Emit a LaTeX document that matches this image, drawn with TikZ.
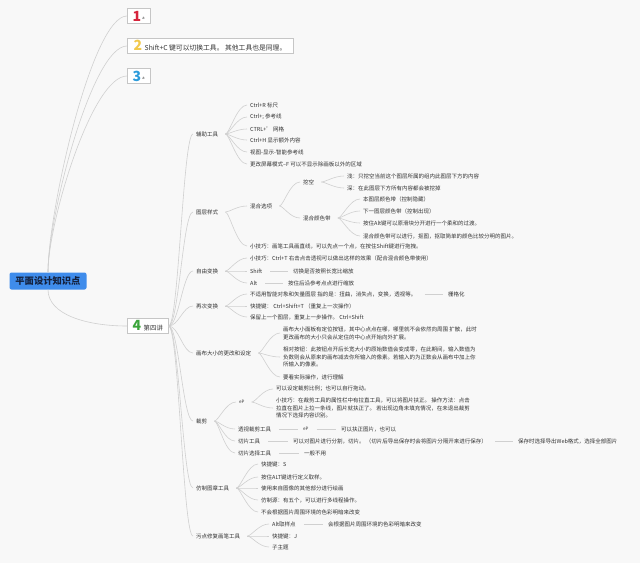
\documentclass[tikz,border=0pt]{standalone}
\usepackage{fontspec}
\setmainfont{Noto Sans CJK SC}
\usetikzlibrary{positioning}
\definecolor{linkgray}{HTML}{D0D0D0}
\definecolor{textdark}{HTML}{333333}
\definecolor{rootblue}{HTML}{3F8CEB}
\definecolor{rootink}{HTML}{14213D}
\definecolor{numred}{HTML}{D6243C}
\definecolor{numyellow}{HTML}{F2C94C}
\definecolor{numblue}{HTML}{2D9CDB}
\definecolor{numgreen}{HTML}{3BA53B}
\definecolor{bggray}{HTML}{F8F8F8}
\newcommand\topicnum[2]{{\fontsize{14}{14}\selectfont\bfseries\textcolor{#1}{#2}}}
\newcommand\tinytag[1]{\raisebox{2pt}{\fontsize{4}{4}\selectfont #1}}
\tikzset{
  leaf/.style={
    anchor=west, inner sep=1pt, text=textdark,
    align=left, font=\fontsize{5.5}{7.8}\selectfont
  },
  topic/.style={
    anchor=west, rectangle, draw=gray!45, fill=white,
    inner xsep=5.5pt, inner ysep=0pt, minimum height=15pt,
    text=textdark, font=\fontsize{6.4}{7}\selectfont
  },
  rootbox/.style={
    rectangle, rounded corners=2pt, fill=rootblue, text=rootink,
    minimum width=77pt, minimum height=17pt,
    font=\fontsize{9.3}{10}\selectfont\bfseries
  },
  link/.style={draw=linkgray, line width=0.6pt},
  fan/.style={link, out=0, in=180, out distance=10pt, in distance=12pt,
    shorten <=6pt, shorten >=2pt},
  hline/.style={link, shorten <=7pt, shorten >=4pt}
}

\begin{document}
\begin{tikzpicture}[x=1pt, y=-1pt]

  % canvas
  \fill[bggray] (0,0) rectangle (640,563);
  \useasboundingbox (0,0) rectangle (640,563);

  % Root and main topics
  \node[rootbox] (root) at (48,281) {平面设计知识点};
  \node[topic] (t1) at (127,16) {\topicnum{numred}{1}\,\tinytag{a}};
  \node[topic, inner xsep=6.5pt] (t2) at (127,46) {\topicnum{numyellow}{2}\, {\fontsize{6.8}{7}\selectfont Shift+C 键可以切换工具。 其他工具也是同理。}};
  \node[topic] (t3) at (127,76) {\topicnum{numblue}{3}\,\tinytag{a}};
  \node[topic] (t4) at (127,326) {\topicnum{numgreen}{4}\, 第四讲};

  \draw[link] (root.north) .. controls +(0,-60) and +(-35,0) .. (t1.west);
  \draw[link] (root.north) .. controls +(0,-55) and +(-35,0) .. (t2.west);
  \draw[link] (root.north) .. controls +(0,-50) and +(-35,0) .. (t3.west);
  \draw[link] (root.south) .. controls +(0,25) and +(-40,0) .. (t4.west);

  % Lecture four: subtopics
  \node[leaf] (fzgj) at (195,134) {辅助工具};
  \node[leaf] (tcys) at (195,212) {图层样式};
  \node[leaf] (zybh) at (195,271) {自由变换};
  \node[leaf] (zcbh) at (195,306) {再次变换};
  \node[leaf] (hbdx) at (195,353) {画布大小的更改和设定};
  \node[leaf] (cj) at (195,421) {裁剪};
  \node[leaf] (fzyz) at (195,488) {仿制图章工具};
  \node[leaf] (wdxf) at (195,536) {污点修复画笔工具};

  \draw[fan, shorten <=0pt] (t4.east) to (fzgj.west);
  \draw[fan, shorten <=0pt] (t4.east) to (tcys.west);
  \draw[fan, shorten <=0pt] (t4.east) to (zybh.west);
  \draw[fan, shorten <=0pt] (t4.east) to (zcbh.west);
  \draw[fan, shorten <=0pt] (t4.east) to (hbdx.west);
  \draw[fan, shorten <=0pt] (t4.east) to (cj.west);
  \draw[fan, shorten <=0pt] (t4.east) to (fzyz.west);
  \draw[fan, shorten <=0pt] (t4.east) to (wdxf.west);

  % Helper tools
  \node[leaf] (fz1) at (249,105) {Ctrl+R 标尺};
  \node[leaf] (fz2) at (249,117) {Ctrl+; 参考线};
  \node[leaf] (fz3) at (249,129) {CTRL+{\char"27} 网格};
  \node[leaf] (fz4) at (249,140) {Ctrl+H 显示额外内容};
  \node[leaf] (fz5) at (249,152) {视图-显示-智能参考线};
  \node[leaf] (fz6) at (249,164) {更改屏幕模式--F 可以不显示除画板以外的区域};
  \draw[fan] (fzgj.east) to (fz1.west);
  \draw[fan] (fzgj.east) to (fz2.west);
  \draw[fan] (fzgj.east) to (fz3.west);
  \draw[fan] (fzgj.east) to (fz4.west);
  \draw[fan] (fzgj.east) to (fz5.west);
  \draw[fan] (fzgj.east) to (fz6.west);

  % Layer style
  \node[leaf] (hhxx) at (249,206) {混合选项};
  \node[leaf] (tcjq) at (249,246) {小技巧：画笔工具画直线，可以先点一个点，在按住Shift键进行拖拽。};
  \node[leaf] (wk) at (302,182) {挖空};
  \node[leaf] (hhyd) at (302,218) {混合颜色带};
  \node[leaf] (wk1) at (346,176) {浅：只挖空当前这个图层所属的组内此图层下方的内容};
  \node[leaf] (wk2) at (346,188) {深：在此图层下方所有内容都会被挖掉};
  \node[leaf] (yd1) at (362,199) {本图层颜色带（控制隐藏）};
  \node[leaf] (yd2) at (362,211) {下一图层颜色带（控制出现）};
  \node[leaf] (yd3) at (362,223) {按住Alt键可以原滑块分开进行一个柔和的过渡。};
  \node[leaf] (yd4) at (362,236) {混合颜色带可以进行，抠图，抠取简单的颜色比较分明的图片。};
  \draw[fan] (tcys.east) to (hhxx.west);
  \draw[fan] (tcys.east) to (tcjq.west);
  \draw[fan] (hhxx.east) to (wk.west);
  \draw[fan] (hhxx.east) to (hhyd.west);
  \draw[fan] (wk.east) to (wk1.west);
  \draw[fan] (wk.east) to (wk2.west);
  \draw[fan] (hhyd.east) to (yd1.west);
  \draw[fan] (hhyd.east) to (yd2.west);
  \draw[fan] (hhyd.east) to (yd3.west);
  \draw[fan] (hhyd.east) to (yd4.west);

  % Free transform
  \node[leaf] (zy1) at (249,258) {小技巧：Ctrl+T 右击点击透视可以做出这样的效果（配合混合颜色带使用）};
  \node[leaf] (zy2) at (249,271) {Shift};
  \node[leaf] (zy2b) at (292,271) {切换是否按照长宽比缩放};
  \node[leaf] (zy3) at (249,283) {Alt};
  \node[leaf] (zy3b) at (287,283) {按住后沿参考点点进行缩放};
  \draw[fan] (zybh.east) to (zy1.west);
  \draw[fan] (zybh.east) to (zy2.west);
  \draw[fan] (zybh.east) to (zy3.west);
  \draw[hline] (zy2.east) -- (zy2b.west);
  \draw[hline] (zy3.east) -- (zy3b.west);

  % Transform again
  \node[leaf] (zc1) at (249,294) {不适用智能对象和矢量图层 指的是：扭曲，消失点，变换，透视等。};
  \node[leaf] (zc1b) at (447,294) {栅格化};
  \node[leaf] (zc2) at (249,306) {快捷键： Ctrl+Shift+T （重复上一次操作）};
  \node[leaf] (zc3) at (249,317) {保留上一个图层，重复上一步操作。 Ctrl+Shift};
  \draw[fan] (zcbh.east) to (zc1.west);
  \draw[fan] (zcbh.east) to (zc2.west);
  \draw[fan] (zcbh.east) to (zc3.west);
  \draw[hline] (zc1.east) -- (zc1b.west);

  % Canvas size
  \node[leaf] (hb1) at (282,333) {画布大小面板有定位按钮，其中心点点在哪，哪里就不会依然向周围 扩散，此时\\
    更改画布的大小只会从定住的中心点开始向外扩展。};
  \node[leaf] (hb2) at (282,357) {相对按钮：此按钮点开后长宽大小的原始数值会变成零，在此期间，输入数值为\\
    负数则会从原来的画布减去你所输入的像素。若输入的为正数会从画布中加上你\\
    所输入的像素。};
  \node[leaf] (hb3) at (282,377) {要看实际操作，进行理解};
  \draw[fan] (hbdx.east) to (hb1.west);
  \draw[fan] (hbdx.east) to (hb2.west);
  \draw[fan] (hbdx.east) to (hb3.west);

  % Crop
  \node[leaf] (ep) at (238,402) {\fontsize{4.5}{5}\selectfont eP};
  \node[leaf] (ep1) at (275,389) {可以设定裁剪比例；也可以自行拖动。};
  \node[leaf] (ep2) at (275,408) {小技巧：在裁剪工具的属性栏中有拉直工具，可以将图片扶正。 操作方法：点击\\
    拉直在图片上拉一条线，图片就扶正了。 若出现边角未填充情况，在未退出裁剪\\
    情况下选择内容识别。};
  \node[leaf] (tscj) at (237,429) {透视裁剪工具};
  \node[leaf] (tscjb) at (302,429) {\fontsize{4.5}{5}\selectfont eP};
  \node[leaf] (tscjc) at (340,429) {可以扶正图片，也可以};
  \node[leaf] (qp) at (237,441) {切片工具};
  \node[leaf] (qpb) at (292,441) {可以对图片进行分割，切片。 （切片后导出保存时会将图片分隔开来进行保存）};
  \node[leaf] (qpc) at (517,441) {保存时选择导出Web格式，选择全部图片};
  \node[leaf] (qpxz) at (237,453) {切片选择工具};
  \node[leaf] (qpxzb) at (303,453) {一般不用};
  \draw[fan] (cj.east) to (ep.west);
  \draw[fan] (cj.east) to (tscj.west);
  \draw[fan] (cj.east) to (qp.west);
  \draw[fan] (cj.east) to (qpxz.west);
  \draw[fan] (ep.east) to (ep1.west);
  \draw[fan] (ep.east) to (ep2.west);
  \draw[hline] (tscj.east) -- (tscjb.west);
  \draw[hline] (tscjb.east) -- (tscjc.west);
  \draw[hline] (qp.east) -- (qpb.west);
  \draw[hline] (qpb.east) -- (qpc.west);
  \draw[hline] (qpxz.east) -- (qpxzb.west);

  % Clone stamp
  \node[leaf] (fy1) at (260,464) {快捷键：S};
  \node[leaf] (fy2) at (260,477) {按住ALT键进行定义取样。};
  \node[leaf] (fy3) at (260,488) {使用来自图像的其他部分进行绘画};
  \node[leaf] (fy4) at (260,500) {仿制源：有五个，可以进行多线程操作。};
  \node[leaf] (fy5) at (260,512) {不会根据图片周围环境的色彩明暗来改变};
  \draw[fan] (fzyz.east) to (fy1.west);
  \draw[fan] (fzyz.east) to (fy2.west);
  \draw[fan] (fzyz.east) to (fy3.west);
  \draw[fan] (fzyz.east) to (fy4.west);
  \draw[fan] (fzyz.east) to (fy5.west);

  % Spot healing brush
  \node[leaf] (wd1) at (271,524) {Alt取样点};
  \node[leaf] (wd1b) at (327,524) {会根据图片周围环境的色彩明暗来改变};
  \node[leaf] (wd2) at (271,536) {快捷键：J};
  \node[leaf] (wd3) at (271,547) {子主题};
  \draw[fan] (wdxf.east) to (wd1.west);
  \draw[fan] (wdxf.east) to (wd2.west);
  \draw[fan] (wdxf.east) to (wd3.west);
  \draw[hline] (wd1.east) -- (wd1b.west);

\end{tikzpicture}
\end{document}
